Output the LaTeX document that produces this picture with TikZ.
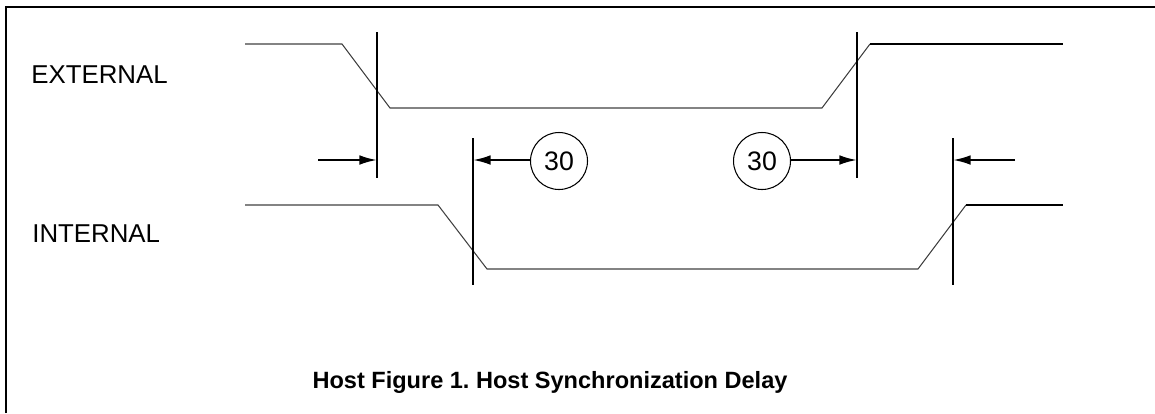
\documentclass[tikz,border=0pt]{standalone}
\usepackage{fontspec}
\setmainfont{Liberation Sans}
\usetikzlibrary{arrows.meta}

\tikzset{
  wave/.style={line width=0.6pt, draw=black!75},
  wavehi/.style={line width=1.2pt, draw=black},
  edge/.style={line width=1.2pt},
  dim/.style={line width=1.2pt, -{Latex[length=10pt,width=5.5pt]}},
  tag/.style={circle, draw, line width=0.6pt, inner sep=0pt, minimum size=1.14cm, font=\fontsize{15.2}{17}\selectfont}
}

\begin{document}
\frenchspacing
\begin{tikzpicture}[x=0.02cm, y=-0.02cm, line join=miter, font=\fontsize{14.7}{17}\selectfont]
	
	\useasboundingbox (0,0) rectangle (1155,413);
	
	% Frame (top and left sides only)
	\draw[line width=1.3pt] (6,413) -- (6,7) -- (1155,7);
	
	% Signal names
	\node[anchor=west, inner sep=0pt] (ext) at (31,74.5) {EXTERNAL};
	\node[anchor=west, inner sep=0pt] (int) at (32,234) {INTERNAL};
	
	% External waveform
	\draw[wave] (245,44) -- (342,44) -- (390,108) -- (822,108) -- (870,44);
	\draw[wavehi] (870,44) -- (1063,44);
	
	% Internal waveform
	\draw[wave] (245,205) -- (438,205) -- (487,269) -- (918,269) -- (966,205);
	\draw[wavehi] (966,205) -- (1063,205);
	
	% Edge markers
	\coordinate (E1t) at (377,32);  \coordinate (E1b) at (377,178);
	\coordinate (I1t) at (473,138); \coordinate (I1b) at (473,285);
	\coordinate (E2t) at (857,32);  \coordinate (E2b) at (857,178);
	\coordinate (I2t) at (953,138); \coordinate (I2b) at (953,285);
	\foreach \m in {E1, I1, E2, I2} {
		\draw[edge] (\m t) -- (\m b);
	}
	
	% Delay tags
	\node[tag] (d1) at (559,161) {30};
	\node[tag] (d2) at (762,161) {30};
	
	% Arrow ends
	\coordinate (a1) at (318,160);
	\coordinate (a4) at (1015,160);
	
	% Dimension arrows
	\draw[dim] (a1) -- (E1t |- a1);
	\draw[dim] (d1.west |- a1) -- (I1t |- a1);
	\draw[dim] (d2.east |- a1) -- (E2t |- a1);
	\draw[dim] (a4) -- (I2t |- a4);
	
	% Caption
	\node[anchor=base, font=\fontsize{13.4}{16}\selectfont\bfseries] (cap) at (550,388) {Host Figure 1. Host Synchronization Delay};
	
\end{tikzpicture}
\end{document}
